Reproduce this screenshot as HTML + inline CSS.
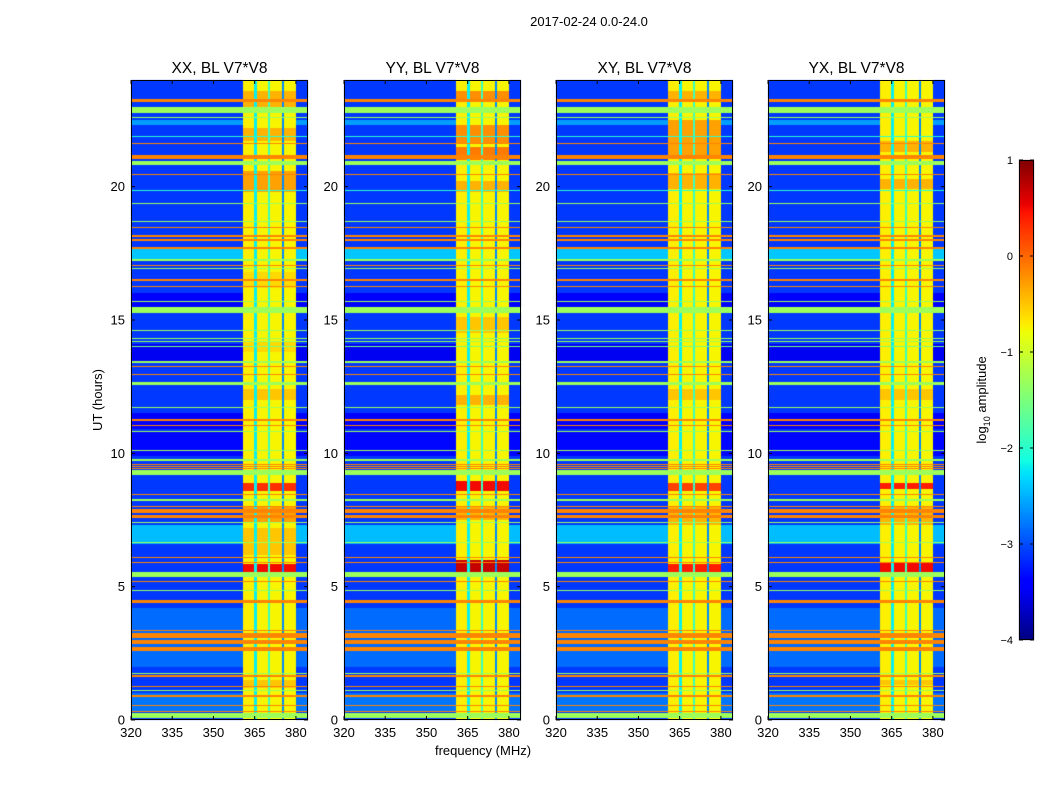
<!DOCTYPE html>
<html><head><meta charset="utf-8"><style>
body{margin:0;background:#fff;width:1050px;height:800px;overflow:hidden;font-family:"Liberation Sans",sans-serif}
#wrap{position:relative;width:1050px;height:800px}
canvas{position:absolute;left:0;top:0}
</style></head><body>
<div id="wrap">
<canvas id="c" width="1050" height="800"></canvas>
<svg id="s" width="1050" height="800" style="position:absolute;left:0;top:0"></svg>
</div>
<script>
// ---- data ----
const panelTitles = ["XX, BL V7*V8","YY, BL V7*V8","XY, BL V7*V8","YX, BL V7*V8"];
const xTicks = [320,335,350,365,380];
const yTicks = [0,5,10,15,20];
const cbTicks = [1,0,-1,-2,-3,-4];
// frequency column structure [f0,f1,log amp]
const colSegments = [[320,360.6,-3.1],[360.6,364.7,-0.72],[364.7,365.8,-2.2],[365.8,369.8,-0.75],[369.8,370.6,-1.9],[370.6,374.9,-0.75],[374.9,375.6,-2.7],[375.6,380.2,-0.75],[380.2,384.4,-3.1]];
// background texture bands (non-bright region) [t0,t1,v]
const bgBands = [[13.4,14.1,-3.5],[15.5,16.0,-3.4],[9.9,10.8,-3.35],[2.0,4.2,-2.85],[6.6,7.3,-2.45],[17.2,17.7,-2.4],[22.3,22.5,-2.6],[0.3,1.0,-2.8],[10.9,11.5,-3.4]];
// full-width RFI rows [t0,t1,v]
const rowBands = [
[23.18,23.28,-0.15],[22.77,23.0,-1.3],[22.58,22.63,-1.3],[21.85,21.9,-2.0],[21.6,21.65,-0.15],[21.05,21.2,-0.15],[20.8,20.95,-1.3],[20.42,20.47,-0.15],
[19.82,19.86,-2.0],[19.35,19.39,-1.3],[18.67,18.71,-1.3],[18.45,18.5,-0.15],[18.13,18.17,-0.15],[17.95,18.05,-0.15],[17.68,17.72,-0.15],
[17.23,17.27,-1.3],[17.04,17.08,-0.15],[16.92,16.96,-1.3],[16.48,16.52,-0.15],[16.25,16.29,-0.15],[15.67,15.71,-1.3],[15.27,15.47,-1.3],
[14.58,14.62,-1.3],[14.28,14.32,-1.3],[14.18,14.22,-1.3],[13.98,14.02,-1.5],[13.37,13.47,-1.3],[13.23,13.27,-0.15],[12.92,12.96,-0.15],[12.56,12.66,-1.3],
[11.7,11.74,-1.3],[11.23,11.27,-0.15],[11.04,11.08,-0.15],[10.79,10.83,-1.3],[10.1,10.14,-1.3],[9.73,9.77,-1.3],[9.57,9.61,-0.15],[9.48,9.52,-0.15],[9.42,9.46,-0.15],[9.19,9.37,-1.3],
[8.42,8.46,-0.15],[8.2,8.28,-1.3],[7.98,8.02,-0.15],[7.75,7.9,-0.15],[7.58,7.69,-0.15],[7.4,7.44,-1.3],[6.62,6.66,-1.3],
[6.09,6.13,-0.15],[5.87,5.91,-0.15],[5.37,5.56,-1.3],[5.17,5.21,-0.15],[4.85,4.89,-1.3],[4.37,4.5,-0.15],
[3.35,3.39,-0.15],[3.09,3.25,-0.15],[2.85,3.0,-0.15],[2.6,2.75,-0.15],[1.74,1.78,-1.3],[1.63,1.67,-0.15],[1.23,1.27,-0.15],[1.08,1.12,-1.3],[0.88,0.92,-0.15],[0.54,0.58,-0.15],[0.3,0.34,-0.15],[0.07,0.26,-1.3]];
// per-panel bright-region hotspots [t0,t1,v]
const hotXX = [[5.55,5.85,0.5],[8.6,8.9,0.3],[7.4,8.0,-0.3],[6.2,7.2,-0.5],[19.8,20.6,-0.3],[21.7,22.2,-0.4],[23.0,23.6,-0.4],[12.0,12.4,-0.5],[1.2,1.5,-0.5],[13.8,14.2,-0.6],[16.2,16.8,-0.6]];
const hotYY = [[5.55,6.0,0.7],[8.6,8.95,0.5],[21.0,21.5,-0.1],[21.6,22.3,-0.2],[23.2,23.6,-0.2],[19.8,20.2,-0.4],[11.8,12.2,-0.4],[14.5,15.1,-0.5],[7.5,8.0,-0.4]];
const hotXY = [[5.55,5.85,0.4],[8.6,8.9,0.2],[21.2,22.5,-0.3],[19.9,20.5,-0.4],[23.2,23.6,-0.4],[7.3,8.0,-0.4],[12.0,12.4,-0.5]];
const hotYX = [[5.55,5.9,0.5],[8.65,8.9,0.4],[19.9,20.3,-0.4],[21.3,21.7,-0.4],[7.3,8.0,-0.4],[12.0,12.4,-0.5],[1.3,1.5,-0.5]];
const hotspots = [hotXX,hotYY,hotXY,hotYX];

// ---- layout ----
const panelLeft=[131,344,556,768], PW=177, PT=80, PH=640;
const FMIN=320, FMAX=384.4, TMIN=0, TMAX=24, VMIN=-4, VMAX=1;
function xScale(p,f){return panelLeft[p]+(f-FMIN)/(FMAX-FMIN)*PW;}
function yScale(t){return PT+PH-(t-TMIN)/(TMAX-TMIN)*PH;}
function jet(v){
  let t=Math.max(0,Math.min(1,(v-VMIN)/(VMAX-VMIN)));
  function interp(pts){for(let i=1;i<pts.length;i++){if(t<=pts[i][0]){const a=pts[i-1],b=pts[i];return a[1]+(b[1]-a[1])*(t-a[0])/(b[0]-a[0]);}}return pts[pts.length-1][1];}
  const r=interp([[0,0],[0.35,0],[0.66,1],[0.89,1],[1,0.5]]);
  const g=interp([[0,0],[0.125,0],[0.375,1],[0.64,1],[0.91,0],[1,0]]);
  const b=interp([[0,0.5],[0.11,1],[0.34,1],[0.65,0],[1,0]]);
  return [Math.round(r*255),Math.round(g*255),Math.round(b*255)];
}
function valueAt(p,t,f){
  let v=-3.1, kind='bg';
  for(const s of colSegments){if(f>=s[0]&&f<s[1]){v=s[2];kind=s[2]>-1.5?'bright':(s[2]<=-3?'bg':'gap');break;}}
  if(kind==='bg'){for(const b of bgBands){if(t>=b[0]&&t<b[1]){v=b[2];break;}}}
  if(kind==='bright'){for(const h of hotspots[p]){if(t>=h[0]&&t<h[1]){v=Math.max(v,h[2]);}}}
  for(const r of rowBands){if(t>=r[0]&&t<r[1]){v=r[2];break;}}
  return v;
}
const cv=document.getElementById('c'),ctx=cv.getContext('2d');
for(let p=0;p<4;p++){
  const img=ctx.createImageData(PW,PH);
  for(let y=0;y<PH;y++){
    const t=TMAX-(y+0.5)/PH*(TMAX-TMIN);
    for(let x=0;x<PW;x++){
      const f=FMIN+(x+0.5)/PW*(FMAX-FMIN);
      const c=jet(valueAt(p,t,f));
      const i=(y*PW+x)*4;img.data[i]=c[0];img.data[i+1]=c[1];img.data[i+2]=c[2];img.data[i+3]=255;
    }
  }
  ctx.putImageData(img,panelLeft[p],PT);
}
// colorbar
const CBX=1019,CBW=15,CBT=160,CBH=480;
for(let y=0;y<CBH;y++){const v=VMAX-(y+0.5)/CBH*(VMAX-VMIN);const c=jet(v);ctx.fillStyle=`rgb(${c[0]},${c[1]},${c[2]})`;ctx.fillRect(CBX,CBT+y,CBW,1);}

// ---- svg overlay ----
const svg=document.getElementById('s');const NS="http://www.w3.org/2000/svg";
function el(tag,attrs,txt){const e=document.createElementNS(NS,tag);for(const k in attrs)e.setAttribute(k,attrs[k]);if(txt!==undefined)e.textContent=txt;svg.appendChild(e);return e;}
let e=el('text',{x:589,y:26,'text-anchor':'middle','font-size':13,'font-family':'Liberation Sans'},"2017-02-24 0.0-24.0");


for(let p=0;p<4;p++){
  const L=panelLeft[p];
  e=el('rect',{x:L+0.5,y:PT+0.5,width:PW-1,height:PH-1,fill:'none',stroke:'#000','stroke-width':1});
  
  
  e=el('text',{x:L+PW/2,y:73,'text-anchor':'middle','font-size':15.5,'font-family':'Liberation Sans'},panelTitles[p]);
  
  
  for(const f of xTicks){const x=xScale(p,f);
    el('line',{x1:x,x2:x,y1:PT+PH,y2:PT+PH-4,stroke:'#000'});el('line',{x1:x,x2:x,y1:PT,y2:PT+4,stroke:'#000'});
    e=el('text',{x:x,y:737,'text-anchor':'middle','font-size':13,'font-family':'Liberation Sans'},String(f));
    
    }
  for(const t of yTicks){const y=yScale(t);
    el('line',{x1:L,x2:L+4,y1:y,y2:y,stroke:'#000'});el('line',{x1:L+PW,x2:L+PW-4,y1:y,y2:y,stroke:'#000'});
    e=el('text',{x:L-6,y:y+4.5,'text-anchor':'end','font-size':13,'font-family':'Liberation Sans'},String(t));
    
    }
}
e=el('text',{x:483,y:755,'text-anchor':'middle','font-size':13,'font-family':'Liberation Sans'},"frequency (MHz)");


e=el('text',{x:0,y:0,'text-anchor':'middle','font-size':13,'font-family':'Liberation Sans',transform:'translate(102,400) rotate(-90)'},"UT (hours)");


e=el('rect',{x:CBX+0.5,y:CBT+0.5,width:CBW-1,height:CBH-1,fill:'none',stroke:'#000'});


for(const v of cbTicks){const y=CBT+(VMAX-v)/(VMAX-VMIN)*CBH;
  el('line',{x1:CBX,x2:CBX+4,y1:y,y2:y,stroke:'#000'});el('line',{x1:CBX+CBW,x2:CBX+CBW-4,y1:y,y2:y,stroke:'#000'});
  e=el('text',{x:CBX-6,y:y+4,'text-anchor':'end','font-size':11,'font-family':'Liberation Sans'},v<0?'\u2212'+(-v):String(v));
  
  }
e=el('text',{x:0,y:0,'text-anchor':'middle','font-size':13,'font-family':'Liberation Sans',transform:'translate(986,400) rotate(-90)'});
e.innerHTML='log<tspan font-size="9" dy="4">10</tspan><tspan dy="-4"> amplitude</tspan>';


</script>
</body></html>
